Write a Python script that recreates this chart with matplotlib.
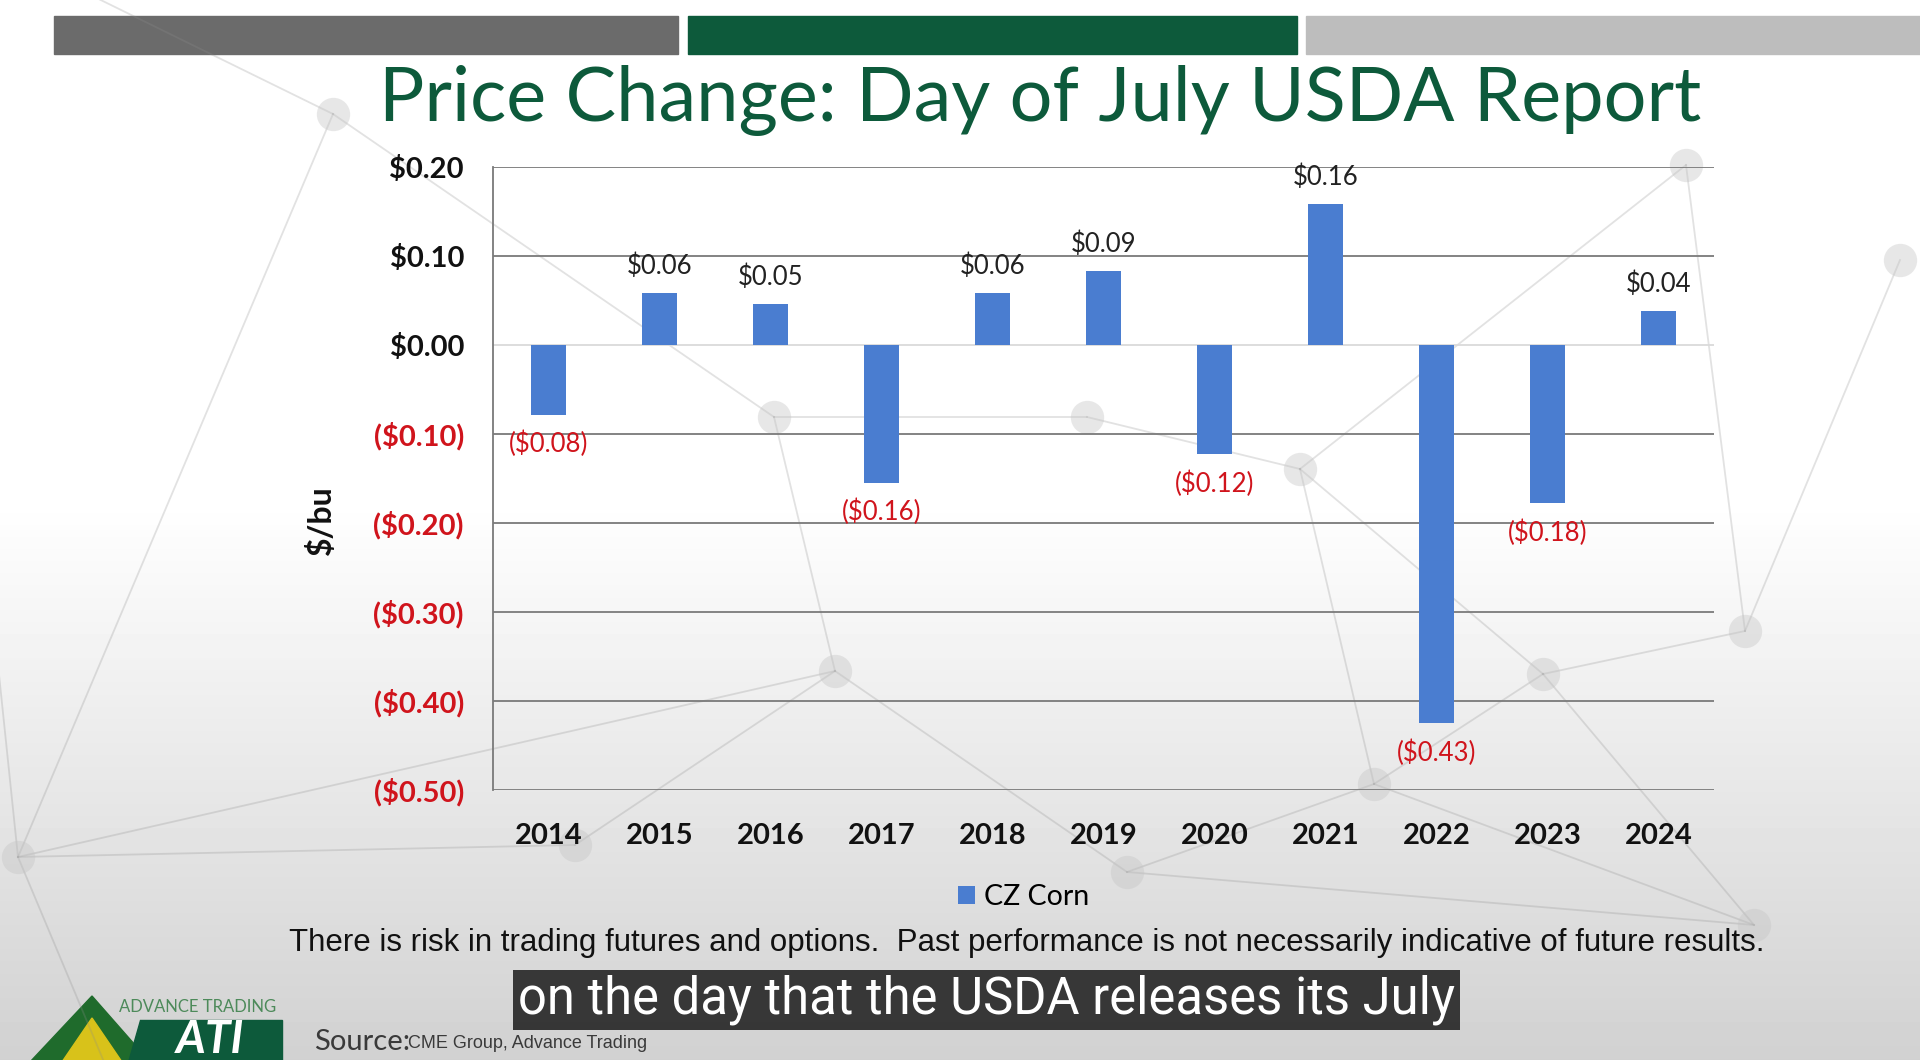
import matplotlib.pyplot as plt
import numpy as np
from matplotlib.patches import Rectangle, Polygon

# data
years = ['2014', '2015', '2016', '2017', '2018', '2019', '2020', '2021', '2022', '2023', '2024']
change = [-0.079, 0.058, 0.046, -0.155, 0.058, 0.083, -0.123, 0.158, -0.425, -0.178, 0.038]
bar_labels = ['($0.08)', '$0.06', '$0.05', '($0.16)', '$0.06', '$0.09', '($0.12)', '$0.16', '($0.43)', '($0.18)', '$0.04']
yticks = [0.20, 0.10, 0.00, -0.10, -0.20, -0.30, -0.40, -0.50]

BLUE = '#4a7dd0'
RED = '#d0141c'
GREEN = '#0d5a3b'

plt.rcParams['font.family'] = ['Lato', 'DejaVu Sans']

fig = plt.figure(figsize=(19.2, 10.6), dpi=100)

# background: white fading to light grey, plus faint network lines
bg = fig.add_axes([0, 0, 1, 1], zorder=-10)
grad = np.concatenate([np.ones(500), np.linspace(1.0, 0.82, 560)])
bg.imshow(grad[:, None] * np.ones((1, 10)), cmap='gray', vmin=0, vmax=1,
          aspect='auto', extent=[0, 1920, 1060, 0])
nodes = [(18, 857), (333, 114), (774, 417), (1087, 417), (1300, 469), (1374, 784),
         (1543, 674), (1745, 631), (1686, 165), (1754, 925), (1127, 872), (835, 671),
         (575, 845), (1900, 260), (-40, 300), (120, 1100), (60, -20)]
edges = [(0, 12), (12, 11), (11, 2), (2, 1), (2, 3), (3, 4), (4, 5), (5, 6), (6, 7),
         (7, 8), (8, 4), (5, 9), (9, 6), (10, 5), (10, 11), (10, 9), (4, 6), (7, 13),
         (0, 14), (0, 15), (1, 16), (0, 1), (11, 0)]
for a, b in edges:
    bg.plot([nodes[a][0], nodes[b][0]], [nodes[a][1], nodes[b][1]],
            color='#8c8c8c', lw=1.3, alpha=0.25)
for px, py in nodes:
    bg.plot(px, py, 'o', ms=24, color='#c4c4c4', alpha=0.4, mec='none')
bg.set_xlim(0, 1920)
bg.set_ylim(1060, 0)
bg.axis('off')

# top band of three blocks
bg.add_patch(Rectangle((54, 16), 624, 38, color='#6b6b6b'))
bg.add_patch(Rectangle((688, 16), 609, 38, color=GREEN))
bg.add_patch(Rectangle((1306, 16), 614, 38, color='#bdbdbd'))

fig.text(0.5416, 0.905, 'Price Change: Day of July USDA Report', fontsize=54.5,
         color=GREEN, ha='center', va='center')

# chart
ax = fig.add_axes([0.2568, 0.2547, 0.636, 0.5882])
ax.patch.set_alpha(0)
x = np.arange(len(years))
bars = ax.bar(x, change, width=0.32, color=BLUE, zorder=3, label='CZ Corn')
for xi, v, lab in zip(x, change, bar_labels):
    if v >= 0:
        ax.annotate(lab, (xi, v), xytext=(0, 19), textcoords='offset points',
                    ha='center', va='center', fontsize=18.5, color='#222222')
    else:
        ax.annotate(lab, (xi, v), xytext=(0, -21), textcoords='offset points',
                    ha='center', va='center', fontsize=18.5, color=RED)

ax.set_xlim(-0.5, len(years) - 0.5)
ax.set_ylim(-0.50, 0.20)
ax.set_yticks(yticks)
ax.set_yticklabels([f'${v:.2f}' if v >= 0 else f'(${-v:.2f})' for v in yticks],
                   fontsize=21, fontweight='bold')
for t, v in zip(ax.get_yticklabels(), yticks):
    t.set_color('#111111' if v >= 0 else RED)
ax.set_xticks(x)
ax.set_xticklabels(years, fontsize=21, fontweight='bold', color='#111111')
ax.tick_params(axis='both', length=0)
ax.tick_params(axis='y', pad=21)
ax.tick_params(axis='x', pad=24)
for v in yticks:
    ax.axhline(v, color='#dadada' if v == 0 else '#7a7a7a', lw=1.3, zorder=1)
for s in ['top', 'right', 'bottom']:
    ax.spines[s].set_visible(False)
ax.spines['left'].set_color('#7a7a7a')
ax.spines['left'].set_linewidth(1.3)

fig.text(0.1672, 0.509, '$/bu', rotation=90, fontsize=23, fontweight='bold',
         ha='center', va='center', color='#111111')

leg = fig.legend(handles=[bars], labels=['CZ Corn'], loc='center',
                 bbox_to_anchor=(0.533, 0.1535), frameon=False, fontsize=20.5,
                 handlelength=0.6, handleheight=0.6, handletextpad=0.3)

fig.text(0.535, 0.110,
         'There is risk in trading futures and options.  Past performance is not necessarily indicative of future results.',
         fontsize=22.5, ha='center', va='center', color='#111111',
         family=['Liberation Sans Narrow', 'Liberation Sans'])

# caption bar
fig.text(0.514, 0.0565, 'on the day that the USDA releases its July', fontsize=36.5,
         color='white', ha='center', va='center', family=['Roboto', 'DejaVu Sans'],
         bbox=dict(boxstyle='square,pad=0.1', fc='#2e2e2e', ec='none', alpha=0.95))

# source line
fig.text(0.1635, 0.017, 'Source:', fontsize=21, color='#3a3a3a', va='center')
fig.text(0.2125, 0.016, 'CME Group, Advance Trading', fontsize=13, color='#3a3a3a',
         va='center', family=['Liberation Sans Narrow', 'Liberation Sans'])

# logo
bg.add_patch(Polygon([(92, 996), (30, 1062), (150, 1062)], color='#1f6b2c'))
bg.add_patch(Polygon([(92, 1018), (62, 1062), (122, 1062)], color='#d8c21a'))
bg.add_patch(Polygon([(140, 1020), (282, 1020), (282, 1062), (128, 1062)], color=GREEN))
bg.text(210, 1040, 'ATI', fontsize=33, fontweight='bold', style='italic',
        color='white', ha='center', va='center')
bg.text(198, 1007, 'ADVANCE TRADING', fontsize=12, color='#4d8a5a',
        ha='center', va='center')

fig.savefig('out.png', dpi=100)
